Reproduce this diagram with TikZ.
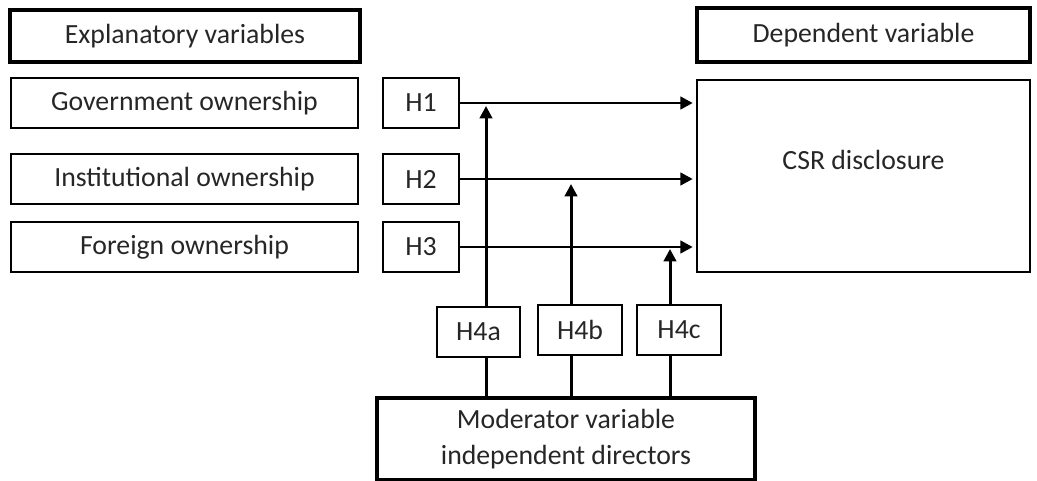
\documentclass[tikz,border=0pt]{standalone}
\usepackage{fontspec}
\setmainfont{Carlito}
\usetikzlibrary{arrows.meta}

\begin{document}
\begin{tikzpicture}[x=0.02cm, y=-0.02cm]

\def\px{0.02cm} % one pixel of the original

\tikzset{
  varbox/.style={draw, line width=0.8pt, text=black!85, inner sep=0pt,
    font=\fontsize{15.8}{20.5}\selectfont, minimum height={50*\px}},
  headbox/.style={varbox, line width=2pt},
  link/.style={line width=1.7pt},
  arrow/.style={link, -{Triangle[length=7pt, width=7pt]}, shorten >=2pt},
}

\useasboundingbox (0,0) rectangle (1037,480);

% Headers
\node[headbox, minimum width={350*\px}, minimum height={52*\px}] (explan) at (185,36) {Explanatory variables};
\node[headbox, minimum width={333*\px}, minimum height={54*\px}] (dep) at (863.5,35) {Dependent variable};

% Explanatory variables
\node[varbox, minimum width={347*\px}] (gov) at (184.5,103) {Government ownership};
\node[varbox, minimum width={347*\px}] (inst) at (184.5,179) {Institutional ownership};
\node[varbox, minimum width={347*\px}] (foreign) at (184.5,247) {Foreign ownership};

% Hypotheses
\node[varbox, minimum width={76*\px}] (h1) at (421,103) {H1};
\node[varbox, minimum width={76*\px}] (h2) at (421,179) {H2};
\node[varbox, minimum width={76*\px}] (h3) at (421,247) {H3};

% Dependent variable
\node[varbox, minimum width={333*\px}, minimum height={192*\px}] (csr) at (863.5,176) {};
\node[font=\fontsize{15.8}{20.5}\selectfont, text=black!85] (csrtext) at ([yshift=16*\px]csr.center) {CSR disclosure};

% Moderator
\node[varbox, minimum width={83*\px}] (h4a) at (478.5,332) {H4a};
\node[varbox, minimum width={84*\px}] (h4b) at (580,330) {H4b};
\node[varbox, minimum width={84*\px}] (h4c) at (679,330) {H4c};
\node[headbox, align=center, minimum width={378*\px}, minimum height={82*\px}] (mod) at (566,439)
  {Moderator variable\\independent directors};

% Tips of the moderating arrows
\coordinate (ma) at (486,106);
\coordinate (mb) at (571,184);
\coordinate (mc) at (670,249);

% Direct effects
\draw[arrow] (h1.east) -- (h1.east -| csr.west);
\draw[arrow] (h2.east) -- (h2.east -| csr.west);
\draw[arrow] (h3.east) -- (h3.east -| csr.west);

% Moderating effects
\draw[link] (mod.north -| ma) -- (h4a.south -| ma);
\draw[link] (mod.north -| mb) -- (h4b.south -| mb);
\draw[link] (mod.north -| mc) -- (h4c.south -| mc);
\draw[arrow, shorten >=0pt] (h4a.north -| ma) -- (ma);
\draw[arrow, shorten >=0pt] (h4b.north -| mb) -- (mb);
\draw[arrow, shorten >=0pt] (h4c.north -| mc) -- (mc);

\end{tikzpicture}
\end{document}
